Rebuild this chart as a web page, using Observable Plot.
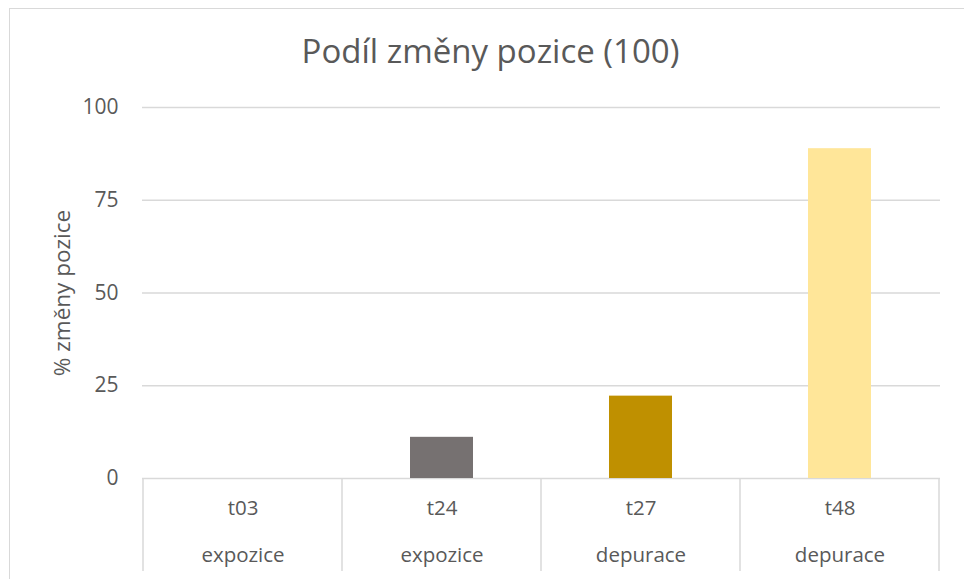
<!DOCTYPE html>
<html>
<head>
<meta charset="utf-8">
<script src="https://cdn.jsdelivr.net/npm/d3@7"></script>
<script src="https://cdn.jsdelivr.net/npm/@observablehq/plot@0.6"></script>
<style>
  html, body { margin: 0; padding: 0; background: #fff; }
  #chart { position: relative; width: 964px; height: 579px; overflow: hidden; }
  #chart svg { display: block; }
  #border { position: absolute; left: 9px; top: 8px; width: 980px; height: 600px; border: 1px solid #d9d9d9; box-sizing: border-box; pointer-events: none; }
</style>
</head>
<body>
<div id="chart"><div id="border"></div></div>
<script>
const title = "Podíl změny pozice (100)";
const yLabel = "% změny pozice";
const times = ["t03", "t24", "t27", "t48"];
const phases = ["expozice", "expozice", "depurace", "depurace"];
const values = [0, 11.1, 22.2, 88.9];
const colors = ["#767171", "#767171", "#BF9000", "#FFE699"];
const yTicks = [0, 25, 50, 75, 100];

const data = times.map((t, i) => ({time: t, phase: phases[i], value: values[i], color: colors[i]}));
const font = "'Open Sans', sans-serif";
const textColor = "#595959";
const gridColor = "#d9d9d9";

// category-axis box: vertical dividers at band boundaries, drawn from the x/y scales
function categoryDividers(index, scales, values, dimensions) {
  const x = scales.x, y = scales.y;
  const step = x.step();
  const bw = x.bandwidth();
  const y0 = y(0);
  const g = d3.create("svg:g");
  const edges = times.map(t => x(t) + bw / 2 - step / 2);
  edges.push(x(times[times.length - 1]) + bw / 2 + step / 2);
  for (const e of edges) {
    g.append("line")
      .attr("x1", e).attr("x2", e)
      .attr("y1", y0).attr("y2", y0 + 93)
      .attr("stroke", gridColor).attr("stroke-width", 1.5);
  }
  return g.node();
}

const plot = Plot.plot({
  width: 964,
  height: 579,
  marginLeft: 142,
  marginRight: 24,
  marginTop: 107,
  marginBottom: 101,
  style: {fontFamily: font, color: textColor, background: "transparent", overflow: "visible"},
  x: {domain: times, paddingInner: 0.684, paddingOuter: 0.342, axis: null},
  y: {domain: [0, 100], axis: null},
  marks: [
    Plot.ruleY(yTicks, {stroke: gridColor, strokeWidth: 1.5}),
    Plot.barY(data, {x: "time", y: "value", fill: "color"}),
    Plot.axisY(yTicks, {tickSize: 0, tickPadding: 24, fontSize: 21, fill: textColor, label: null}),
    Plot.text([yLabel], {frameAnchor: "left", dx: -80, rotate: -90, textAnchor: "middle", lineAnchor: "middle", fontSize: 22.5, fill: textColor, text: d => d}),
    Plot.text([title], {frameAnchor: "top", dx: -51, dy: -55, textAnchor: "middle", lineAnchor: "middle", fontSize: 33, fill: textColor, text: d => d}),
    Plot.text(data, {x: "time", frameAnchor: "bottom", dy: 30, lineAnchor: "middle", text: "time", fontSize: 20.5, fill: textColor}),
    Plot.text(data, {x: "time", frameAnchor: "bottom", dy: 77, lineAnchor: "middle", text: "phase", fontSize: 20.5, fill: textColor}),
    categoryDividers
  ]
});
document.getElementById("chart").prepend(plot);
</script>
</body>
</html>
